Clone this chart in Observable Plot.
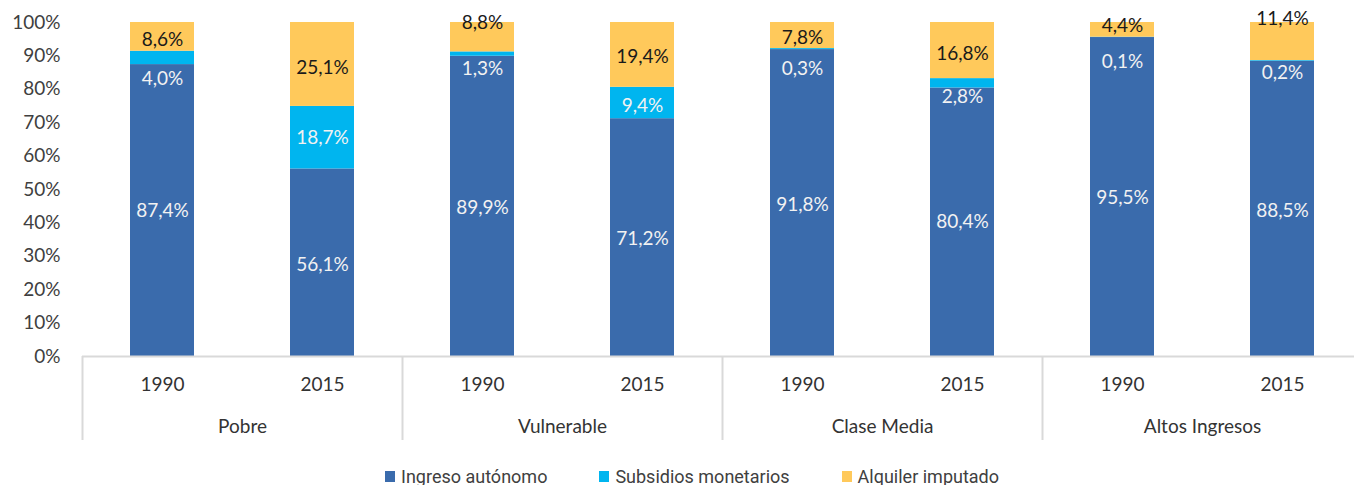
<!DOCTYPE html>
<html>
<head>
<meta charset="utf-8">
<script src="https://cdn.jsdelivr.net/npm/d3@7"></script>
<script src="https://cdn.jsdelivr.net/npm/@observablehq/plot@0.6"></script>
<style>
  html, body { margin: 0; padding: 0; background: #fff; overflow: hidden; width: 1354px; height: 485px; }
  #chart { position: absolute; left: 0; top: 0; width: 1362px; }
  #chart svg { max-width: none !important; }
  #legend { position: absolute; left: 385px; top: 466px; height: 20px; display: flex; align-items: center;
            font-family: Roboto, sans-serif; font-size: 18px; color: #404040; white-space: nowrap; }
  .item { display: flex; align-items: center; margin-right: 52px; }
  .sw { width: 10px; height: 11px; margin-right: 6px; display: inline-block; }
</style>
</head>
<body>
<div id="chart"></div>
<div id="legend"></div>
<script>
// ---- data ----
const groups = ["Pobre", "Vulnerable", "Clase Media", "Altos Ingresos"];
const years = ["1990", "2015"];
const series = ["Ingreso autónomo", "Subsidios monetarios", "Alquiler imputado"];
const ingreso   = [87.4, 56.1, 89.9, 71.2, 91.8, 80.4, 95.5, 88.5];
const subsidios = [4.0, 18.7, 1.3, 9.4, 0.3, 2.8, 0.1, 0.2];
const alquiler  = [8.6, 25.1, 8.8, 19.4, 7.8, 16.8, 4.4, 11.4];
const yTicks = [0, 0.1, 0.2, 0.3, 0.4, 0.5, 0.6, 0.7, 0.8, 0.9, 1];

// ---- style / layout ----
const colors = ["#3A6BAC", "#00B5EF", "#FFC95B"];
// manual label nudges in px (positive = downward), as placed in the original
const nudges = [
  [0, 2, 2, 1, 2, 0, 1, 2],
  [21, 0, 15, 3, 20, 14, 25, 12],
  [3, 3, -14, 2, 2, 3, -4, -23]
];
const plotH = 334;

const values = [ingreso, subsidios, alquiler];
const rows = [];
for (let s = 0; s < series.length; s++) {
  for (let i = 0; i < ingreso.length; i++) {
    const total = values[0][i] + values[1][i] + values[2][i];
    let before = 0;
    for (let k = 0; k < s; k++) before += values[k][i];
    const mid = (before + values[s][i] / 2) / total;
    rows.push({
      group: groups[Math.floor(i / 2)],
      year: years[i % 2],
      series: series[s],
      value: values[s][i],
      labelY: mid - nudges[s][i] / plotH
    });
  }
}
const fmt = d => d.value.toFixed(1).replace(".", ",") + "%";

const chart = Plot.plot({
  width: 1362,
  height: 450,
  marginLeft: 82,
  marginRight: 0,
  marginTop: 22,
  marginBottom: 94,
  style: { fontFamily: "Lato, sans-serif", fontSize: "19px", color: "#404040", background: "white" },
  facet: { data: rows, x: "group" },
  fx: { domain: groups, paddingInner: 0, paddingOuter: 0, axis: null },
  x: { domain: years, paddingInner: 0.6, paddingOuter: 0.3, axis: null },
  y: { domain: [0, 1], ticks: yTicks, tickFormat: d => Math.round(d * 100) + "%", tickSize: 0, tickPadding: 22, label: null },
  color: { domain: series, range: colors },
  marks: [
    Plot.barY(rows, Plot.stackY({ offset: "normalize", x: "year", y: "value", fill: "series" })),
    Plot.ruleY([0], { stroke: "#d9d9d9", strokeWidth: 2 }),
    Plot.ruleX(["1990"], { x: d => d, dx: -80, insetTop: plotH, insetBottom: -84, stroke: "#d9d9d9", strokeWidth: 2 }),
    Plot.text(rows, { filter: d => d.series !== series[2], x: "year", y: "labelY", text: fmt, fill: "#F2F2F2" }),
    Plot.text(rows, { filter: d => d.series === series[2], x: "year", y: "labelY", text: fmt, fill: "#1A1A1A" }),
    Plot.text(rows, { filter: d => d.series === series[0], x: "year", text: d => d.year, frameAnchor: "bottom", lineAnchor: "middle", dy: 28, fill: "#333" }),
    Plot.text(rows, { filter: d => d.series === series[0] && d.year === years[0], text: d => d.group, frameAnchor: "bottom", lineAnchor: "middle", dy: 70, fill: "#333" })
  ]
});
chart.style.maxWidth = "none";
document.getElementById("chart").appendChild(chart);

const legend = document.getElementById("legend");
series.forEach((s, i) => {
  const it = document.createElement("div");
  it.className = "item";
  const sw = document.createElement("span");
  sw.className = "sw";
  sw.style.background = colors[i];
  const tx = document.createElement("span");
  tx.textContent = s;
  it.appendChild(sw);
  it.appendChild(tx);
  legend.appendChild(it);
});
</script>
</body>
</html>
